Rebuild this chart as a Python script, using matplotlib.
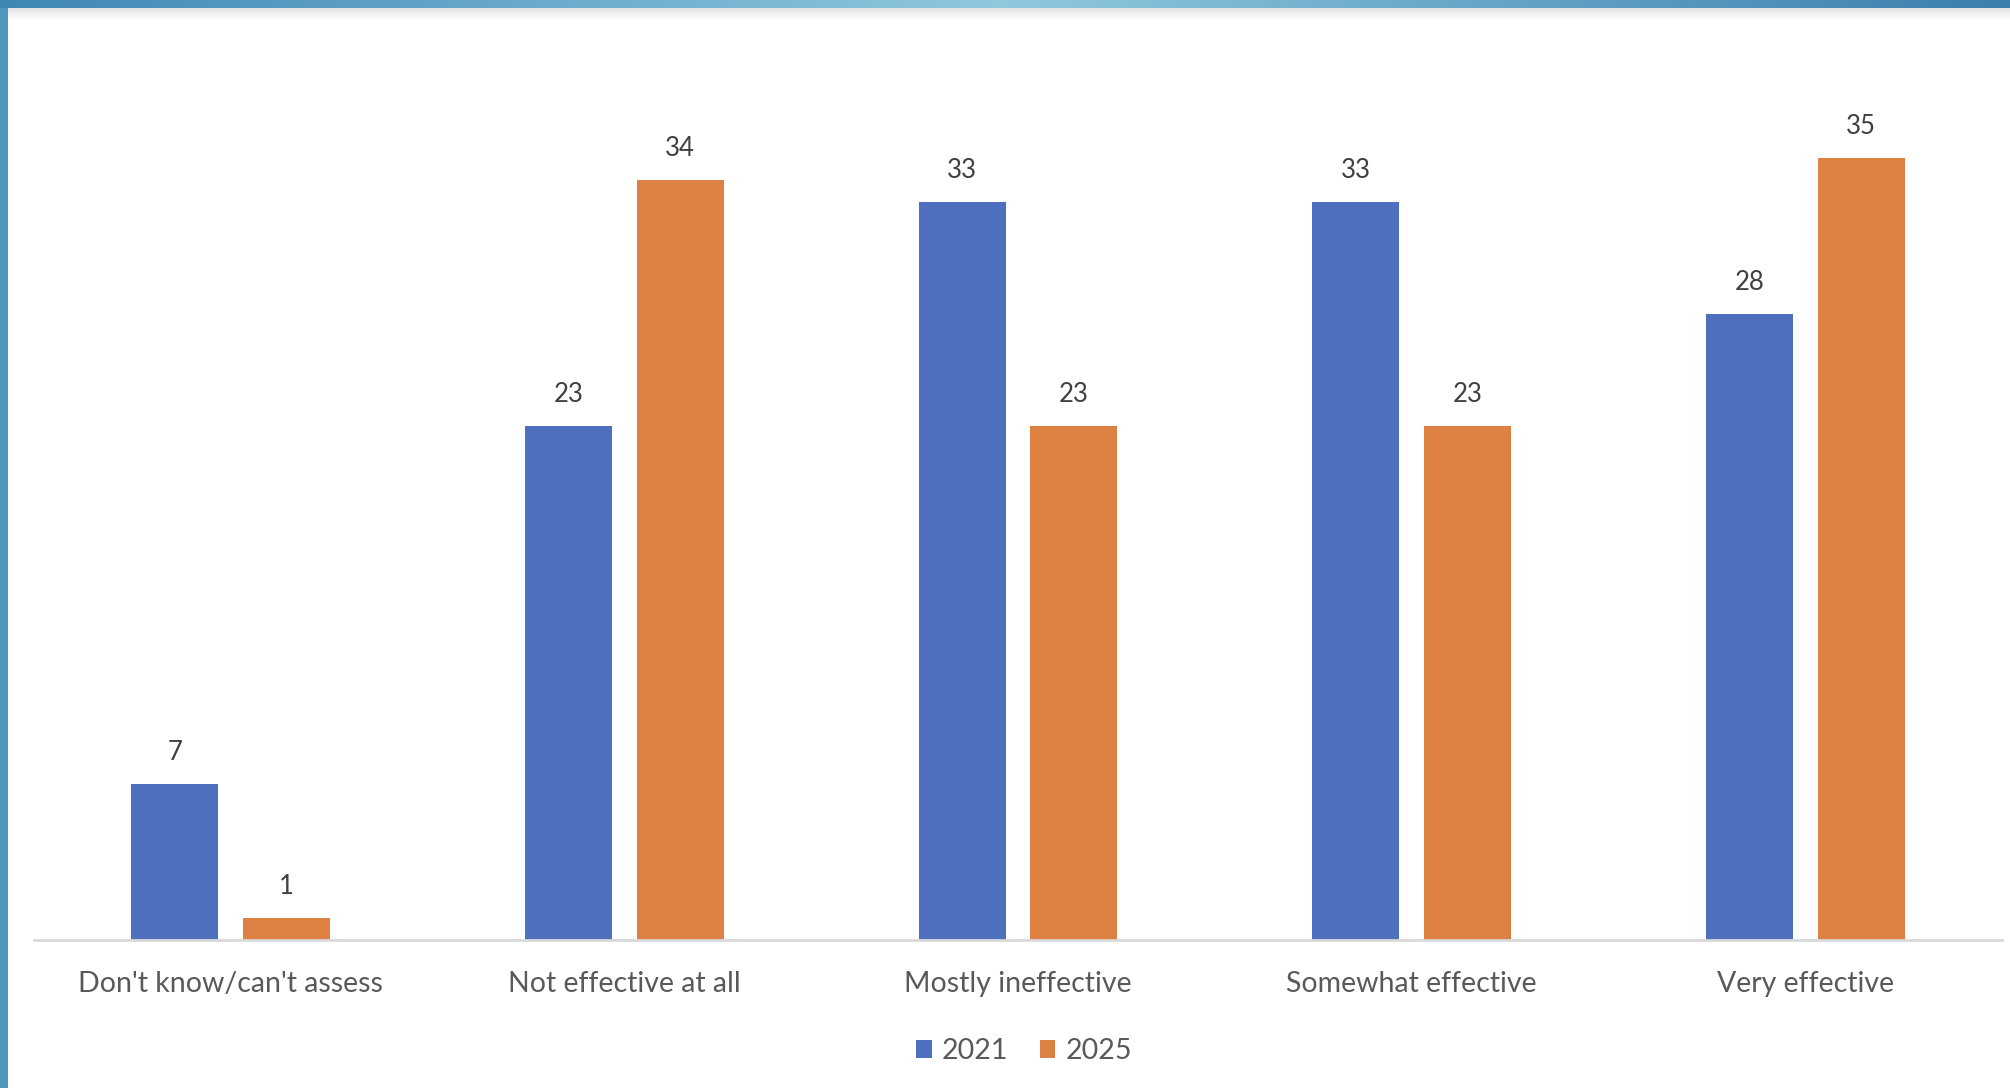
import numpy as np
import matplotlib
matplotlib.use("Agg")
import matplotlib.pyplot as plt
from matplotlib.colors import LinearSegmentedColormap

categories = ["Don't know/can't assess", "Not effective at all", "Mostly ineffective",
              "Somewhat effective", "Very effective"]
years = ["2021", "2025"]
values_2021 = [7, 23, 33, 33, 28]
values_2025 = [1, 34, 23, 23, 35]

plt.rcParams['font.family'] = ['Lato', 'DejaVu Sans']

W, H = 2010, 1088
fig = plt.figure(figsize=(W / 100, H / 100), dpi=100)
fig.patch.set_facecolor('white')

# frame: gradient bar on top (with a faint shadow), plain bar on the left
grad = LinearSegmentedColormap.from_list('frame', ['#3f88b5', '#90c8de', '#3a80ad'])
top = fig.add_axes([0, 1 - 8 / H, 1, 8 / H])
top.imshow(np.linspace(0, 1, 512)[None, :], aspect='auto', cmap=grad)
top.axis('off')
shade = LinearSegmentedColormap.from_list('shade', ['#e2e2e4', '#ffffff'])
sh = fig.add_axes([0, 1 - 20 / H, 1, 12 / H])
sh.imshow(np.linspace(0, 1, 64)[:, None], aspect='auto', cmap=shade)
sh.axis('off')
left = fig.add_axes([0, 0, 8 / W, 1 - 8 / H])
left.set_facecolor('#4d96be')
left.set_xticks([])
left.set_yticks([])
for s in left.spines.values():
    s.set_visible(False)

ax = fig.add_axes([34 / W, (H - 940) / H, (2002 - 34) / W, (940 - 60) / H])
x = np.arange(len(categories))
bw = 0.221
off = 0.142
b1 = ax.bar(x - off, values_2021, bw, color='#4e70be', label=years[0])
b2 = ax.bar(x + off, values_2025, bw, color='#dd8242', label=years[1])

for bars in (b1, b2):
    for r in bars:
        ax.text(r.get_x() + r.get_width() / 2, r.get_height() + 0.85, str(int(r.get_height())),
                ha='center', va='bottom', fontsize=18.5, color='#404040')

ax.set_xlim(-0.5, 4.5)
ax.set_ylim(0, 880 / 22.35)
ax.set_yticks([])
ax.set_xticks(x)
ax.set_xticklabels(categories, fontsize=20.5, color='#595959')
ax.tick_params(axis='x', length=0, pad=22)
for s in ['top', 'right', 'left']:
    ax.spines[s].set_visible(False)
ax.spines['bottom'].set_color('#d9d9d9')
ax.spines['bottom'].set_linewidth(2)

leg = fig.legend(handles=[b1, b2], labels=years, loc='center', bbox_to_anchor=(1024 / W, 1 - 1051 / H),
                 ncol=2, frameon=False, fontsize=20.5, handlelength=0.55, handleheight=0.55,
                 handletextpad=0.35, columnspacing=1.1)
for t in leg.get_texts():
    t.set_color('#595959')

fig.savefig('out.png', dpi=100)
